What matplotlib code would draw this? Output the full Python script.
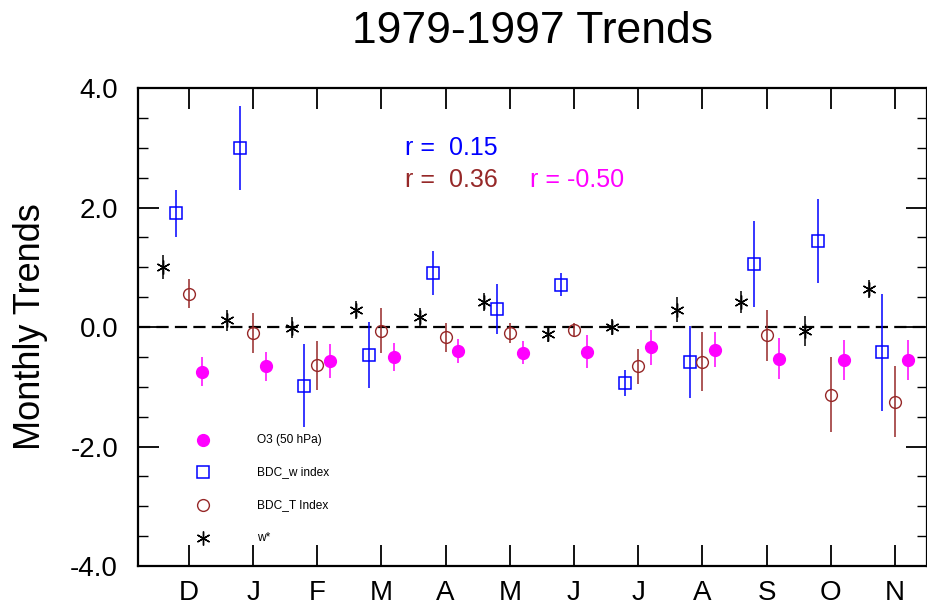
import matplotlib
matplotlib.use("Agg")
import matplotlib.pyplot as plt
from matplotlib.lines import Line2D
import numpy as np

plt.rcParams['font.family'] = ['Liberation Sans', 'DejaVu Sans']

months = ['D', 'J', 'F', 'M', 'A', 'M', 'J', 'J', 'A', 'S', 'O', 'N']

# Monthly trend values and their uncertainties
w_star = [1.00, 0.11, -0.01, 0.29, 0.175, 0.415, -0.125, 0.00, 0.29, 0.415, -0.06, 0.63]
w_star_err = [0.20, 0.17, 0.18, 0.15, 0.15, 0.15, 0.12, 0.14, 0.21, 0.18, 0.25, 0.15]

bdc_w = [1.90, 3.00, -0.98, -0.47, 0.90, 0.30, 0.71, -0.94, -0.58, 1.06, 1.44, -0.42]
bdc_w_err = [0.40, 0.70, 0.70, 0.55, 0.37, 0.42, 0.195, 0.22, 0.60, 0.72, 0.71, 0.98]

bdc_t = [0.556, -0.10, -0.64, -0.06, -0.17, -0.10, -0.05, -0.66, -0.58, -0.14, -1.13, -1.25]
bdc_t_err = [0.24, 0.33, 0.41, 0.38, 0.24, 0.17, 0.12, 0.29, 0.49, 0.43, 0.63, 0.59]

o3 = [-0.745, -0.66, -0.57, -0.50, -0.40, -0.43, -0.41, -0.34, -0.38, -0.53, -0.55, -0.55]
o3_err = [0.25, 0.24, 0.28, 0.24, 0.20, 0.19, 0.27, 0.29, 0.29, 0.34, 0.33, 0.33]

corr_labels = ['r =  0.15', 'r =  0.36', 'r = -0.50']

BLUE = '#0000ff'
BROWN = '#962828'
MAGENTA = '#ff00ff'

fig = plt.figure(figsize=(9.28, 6.09), dpi=100)
ax = fig.add_axes([0.1482, 0.0706, 0.8507, 0.7849])

x = np.arange(len(months))

ax.axhline(0, color='black', lw=1.6, dashes=(5.5, 2.8), zorder=1)

ax.errorbar(x - 0.4, w_star, yerr=w_star_err, fmt='none', ecolor='black', elinewidth=1.1, zorder=2)
ax.plot(x - 0.4, w_star, ls='none', marker=(6, 2, 0), ms=10, mew=1.0, color='black', zorder=3)

ax.errorbar(x - 0.2, bdc_w, yerr=bdc_w_err, fmt='s', ms=8.2, mfc='none', mec=BLUE, mew=1.1,
            ecolor=BLUE, elinewidth=1.1, zorder=3)
ax.errorbar(x, bdc_t, yerr=bdc_t_err, fmt='o', ms=8.5, mfc='none', mec=BROWN, mew=1.0,
            ecolor=BROWN, elinewidth=1.1, zorder=3)
ax.errorbar(x + 0.2, o3, yerr=o3_err, fmt='o', ms=8.5, mfc=MAGENTA, mec=MAGENTA,
            ecolor=MAGENTA, elinewidth=1.1, zorder=3)

ax.set_xlim(-0.8, 11.5)
ax.set_ylim(-4.0, 4.0)
ax.set_xticks(x)
ax.set_xticklabels(months)
ax.set_yticks([-4, -2, 0, 2, 4])
ax.set_yticklabels(['-4.0', '-2.0', '0.0', '2.0', '4.0'])
ax.set_yticks(np.arange(-4, 4.01, 0.5), minor=True)

ax.tick_params(axis='both', which='major', direction='in', length=15, width=1.3,
               top=True, right=True, labelsize=20, colors='black')
ax.tick_params(axis='x', which='major', pad=10)
ax.tick_params(axis='y', which='major', pad=14)
ax.tick_params(axis='y', which='minor', direction='in', length=7, width=1.0, right=True)
for s in ax.spines.values():
    s.set_linewidth(1.6)

ax.set_ylabel('Monthly Trends', fontsize=26, labelpad=16)
fig.text(0.574, 0.949, '1979-1997 Trends', fontsize=32, ha='center', va='center')

ax.text(0.339, 0.8745, corr_labels[0], transform=ax.transAxes, fontsize=18, color=BLUE,
        ha='left', va='center')
ax.text(0.339, 0.8075, corr_labels[1], transform=ax.transAxes, fontsize=18, color=BROWN,
        ha='left', va='center')
ax.text(0.4975, 0.8075, corr_labels[2], transform=ax.transAxes, fontsize=18, color=MAGENTA,
        ha='left', va='center')

# Legend drawn row by row inside the axes
legend_rows = [
    ('O3 (50 hPa)', dict(marker='o', ms=8.5, mfc=MAGENTA, mec=MAGENTA)),
    ('BDC_w index', dict(marker='s', ms=8.2, mfc='none', mec=BLUE, mew=1.1)),
    ('BDC_T Index', dict(marker='o', ms=8.5, mfc='none', mec=BROWN, mew=1.0)),
    ('w*', dict(marker=(6, 2, 0), ms=10, mew=1.0, color='black')),
]
row_y = [0.2636, 0.1967, 0.1276, 0.0586]
for (label, style), yy in zip(legend_rows, row_y):
    ax.add_line(Line2D([0.083], [yy], ls='none', transform=ax.transAxes, **style))
    ax.text(0.151, yy, label, transform=ax.transAxes, fontsize=8.6, ha='left', va='center')

fig.savefig('out.png', dpi=100)
